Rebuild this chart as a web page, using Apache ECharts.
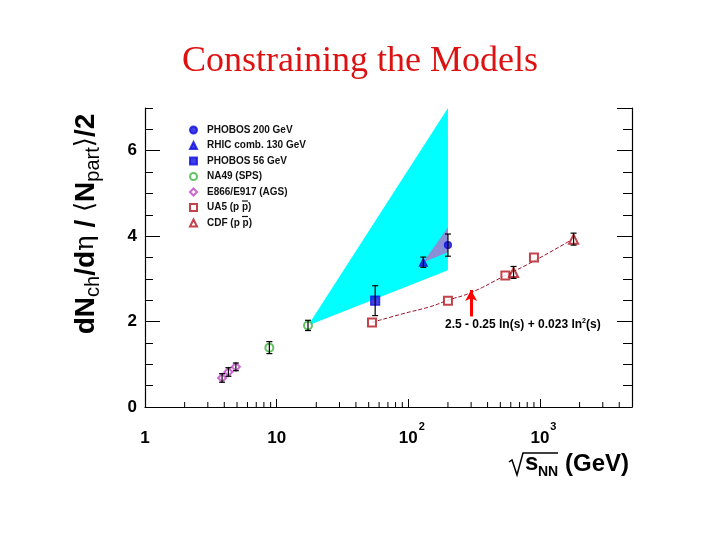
<!DOCTYPE html>
<html>
<head>
<meta charset="utf-8">
<script src="https://cdn.jsdelivr.net/npm/echarts@6/dist/echarts.min.js"></script>
<style>
html, body { margin: 0; padding: 0; background: #fff; }
#main { width: 720px; height: 540px; }
</style>
</head>
<body>
<div id="main"></div>
<script>
// [sqrt(s) GeV, dN/deta per pair, error]
const phobos200 = [[200, 3.79, 0.26]];
const rhic130 = [[130, 3.39, 0.12]];
const phobos56 = [[56, 2.49, 0.35]];
const na49 = [[8.8, 1.39, 0.14], [17.3, 1.91, 0.12]];
const ags = [[3.85, 0.68, 0.1], [4.3, 0.82, 0.1], [4.9, 0.94, 0.09]];
const ua5 = [[53, 1.98], [200, 2.49], [546, 3.08], [900, 3.5]];
const cdf = [[630, 3.15, 0.14], [1800, 3.93, 0.14]];

// dashed fit curve
const fitCurve = [[53, 1.98], [90, 2.18], [147, 2.35], [200, 2.5], [300, 2.68], [530, 3.06], [890, 3.41], [1750, 3.92]];
const fitArrow = [[300, 2.12], [300, 2.74]];

// model bands
const bandPoly = [[17.3, 1.91], [200, 7.0], [200, 3.2]];
const wedgePoly = [[130, 3.39], [200, 4.21], [200, 3.62]];

const legendNames = ['PHOBOS 200 GeV', 'RHIC comb. 130 GeV', 'PHOBOS 56 GeV', 'NA49 (SPS)', 'E866/E917 (AGS)', 'UA5 (p p)', 'CDF (p p)'];
const xTickValues = [1, 10, 100, 1000];
const xTickLabels = ['1', '10', '10^2', '10^3'];
const xMinorTicks = [2, 3, 4, 5, 6, 7, 8, 9, 20, 30, 40, 50, 60, 70, 80, 90, 200, 300, 400, 500, 600, 700, 800, 900, 2000, 3000, 4000];
const yTickLabels = ['0', '2', '4', '6'];

const FONT = 'Liberation Sans';
const LEG_TOP = 120;
const LEG_ROW = 15.5;
const chart = echarts.init(document.getElementById('main'));

function renderErr(params, api) {
  const x = api.value(0), y = api.value(1), e = api.value(2);
  const lo = api.coord([x, y - e]);
  const hi = api.coord([x, y + e]);
  const w = 3;
  const st = { stroke: '#000', lineWidth: 1.2 };
  return {
    type: 'group',
    children: [
      { type: 'line', shape: { x1: lo[0], y1: lo[1], x2: hi[0], y2: hi[1] }, style: st },
      { type: 'line', shape: { x1: lo[0] - w, y1: lo[1], x2: lo[0] + w, y2: lo[1] }, style: st },
      { type: 'line', shape: { x1: hi[0] - w, y1: hi[1], x2: hi[0] + w, y2: hi[1] }, style: st }
    ]
  };
}

function polySeries(poly, color, z) {
  return {
    type: 'custom',
    silent: true,
    clip: true,
    z: z,
    renderItem: function (params, api) {
      return {
        type: 'polygon',
        shape: { points: poly.map(p => api.coord(p)) },
        style: { fill: color }
      };
    },
    data: [poly[0]]
  };
}

function scatter(name, data, symbol, color, size) {
  return {
    name: name,
    type: 'scatter',
    z: 4,
    symbol: symbol,
    symbolSize: size,
    itemStyle: { color: color, borderColor: color, borderWidth: 1.2 },
    data: data.map(d => [d[0], d[1]])
  };
}

// bar over the anti-proton "p" of a legend row
function pbarLine(row) {
  const y = LEG_TOP + row * LEG_ROW + 3.5;
  return { type: 'line', silent: true, shape: { x1: 242, y1: y, x2: 248, y2: y }, style: { stroke: '#111', lineWidth: 1.2 } };
}

const errData = [].concat(phobos200, rhic130, phobos56, na49, ags, cdf);

const option = {
  animation: false,
  backgroundColor: '#fff',
  grid: { left: 145, right: 88, top: 108, bottom: 133 },
  legend: {
    data: legendNames,
    orient: 'vertical',
    left: 184,
    top: LEG_TOP,
    itemWidth: 7,
    itemHeight: 7,
    itemGap: 5.5,
    selectedMode: false,
    textStyle: { fontFamily: FONT, fontSize: 10, fontWeight: 'bold', color: '#111', lineHeight: 10, padding: [0, 0, 0, 5] }
  },
  xAxis: [
    {
      type: 'log', logBase: 10, min: 1, max: 5000, position: 'bottom',
      axisLine: { show: false },
      axisTick: { show: true, inside: true, length: 8, lineStyle: { color: '#000' } },
      splitLine: { show: false },
      axisLabel: {
        showMaxLabel: false,
        margin: 18,
        formatter: function (v) {
          const i = xTickValues.findIndex(t => Math.abs(t - v) < 1e-6 * t);
          if (i < 0) return '';
          const parts = xTickLabels[i].split('^');
          if (parts.length === 1) return '{b|' + parts[0] + '}';
          return '{bs|' + parts[0] + '}{sup|' + parts[1] + '}';
        },
        rich: {
          b: { fontFamily: FONT, fontSize: 17, fontWeight: 'bold', color: '#000', lineHeight: 18, padding: [9, 0, 0, 0] },
          bs: { fontFamily: FONT, fontSize: 17, fontWeight: 'bold', color: '#000', lineHeight: 18, padding: [9, 0, 0, 7] },
          sup: { fontFamily: FONT, fontSize: 11, fontWeight: 'bold', color: '#000', lineHeight: 12, padding: [0, 0, 15, 1] }
        }
      }
    },
    {
      type: 'log', logBase: 10, min: 1, max: 5000, position: 'top',
      axisLine: { show: true, lineStyle: { color: '#000', width: 1.2 } },
      axisTick: { show: false }, axisLabel: { show: false }, splitLine: { show: false }
    }
  ],
  yAxis: [
    {
      type: 'value', min: 0, max: 7, interval: 2, position: 'left',
      axisLine: { show: true, lineStyle: { color: '#000', width: 1.2 } },
      axisTick: { show: true, inside: true, length: 15, lineStyle: { color: '#000' } },
      splitLine: { show: false },
      axisLabel: {
        showMaxLabel: false, margin: 8,
        fontFamily: FONT, fontSize: 17, fontWeight: 'bold', color: '#000',
        formatter: v => yTickLabels[v / 2] || ''
      }
    },
    {
      type: 'value', min: 0, max: 7, interval: 0.5, position: 'left', offset: 0,
      axisLine: { show: false },
      axisTick: { show: true, inside: true, length: 8, lineStyle: { color: '#000' } },
      axisLabel: { show: false }, splitLine: { show: false }
    },
    {
      type: 'value', min: 0, max: 7, interval: 2, position: 'right', offset: 0,
      axisLine: { show: true, lineStyle: { color: '#000', width: 1.2 } },
      axisTick: { show: true, inside: true, length: 15, lineStyle: { color: '#000' } },
      axisLabel: { show: false }, splitLine: { show: false }
    },
    {
      type: 'value', min: 0, max: 7, interval: 0.5, position: 'right', offset: 0,
      axisLine: { show: false },
      axisTick: { show: true, inside: true, length: 9, lineStyle: { color: '#000' } },
      axisLabel: { show: false }, splitLine: { show: false }
    }
  ],
  series: [
    polySeries(bandPoly, '#00ffff', 1),
    polySeries(wedgePoly, '#8a8fd6', 2),
    {
      name: 'fit',
      type: 'line',
      z: 3,
      smooth: true,
      showSymbol: false,
      silent: true,
      data: fitCurve,
      lineStyle: { color: '#a0102a', width: 1, type: [4, 2] },
      markLine: {
        silent: true,
        symbol: ['none', 'arrow'],
        symbolSize: [9, 11],
        label: { show: false },
        lineStyle: { color: '#ff0000', width: 3, type: 'solid' },
        data: [[{ coord: fitArrow[0] }, { coord: fitArrow[1] }]]
      }
    },
    scatter(legendNames[0], phobos200, 'circle', '#1010e0', 7),
    scatter(legendNames[1], rhic130, 'triangle', '#1010e0', 8),
    scatter(legendNames[2], phobos56, 'rect', '#1010e0', 9),
    scatter(legendNames[3], na49, 'emptyCircle', '#3cb43c', 8),
    scatter(legendNames[4], ags, 'emptyDiamond', '#c040c8', 8),
    scatter(legendNames[5], ua5, 'emptyRect', '#b4141e', 8),
    scatter(legendNames[6], cdf, 'emptyTriangle', '#b4141e', 9),
    {
      type: 'custom', z: 5, silent: true,
      renderItem: renderErr,
      data: errData
    },
    {
      type: 'custom', z: 6, silent: true, clip: false,
      renderItem: function (params, api) {
        const p = api.coord([api.value(0), 0]);
        return { type: 'line', shape: { x1: p[0], y1: p[1], x2: p[0], y2: p[1] - 5 }, style: { stroke: '#000', lineWidth: 1 } };
      },
      data: xMinorTicks.map(v => [v, 0])
    }
  ],
  graphic: [
    {
      type: 'text', left: 'center', top: 44,
      style: { text: 'Constraining the Models', fontFamily: 'Liberation Serif', fontSize: 36, fill: '#dd1111' }
    },
    {
      type: 'text', x: 86, y: 224, rotation: Math.PI / 2,
      style: {
        text: '{b|dN}{s|ch}{b|/d}{g|\u03b7}{b| / }{a|\u27e8}{b|N}{s|part}{a|\u27e9}{b|/2}',
        align: 'center', verticalAlign: 'middle',
        rich: {
          b: { fontFamily: FONT, fontSize: 28, fontWeight: 'bold', fill: '#000', lineHeight: 28 },
          g: { fontFamily: 'DejaVu Serif', fontSize: 26, fill: '#000', lineHeight: 28 },
          a: { fontFamily: 'DejaVu Sans', fontSize: 26, fill: '#000', lineHeight: 28 },
          s: { fontFamily: FONT, fontSize: 20, fill: '#000', lineHeight: 20, padding: [15, 0, 0, 0] }
        }
      }
    },
    pbarLine(5),
    pbarLine(6),
    {
      type: 'polyline', silent: true,
      shape: { points: [[509, 462], [512, 460], [517, 475], [523, 453], [558, 453]] },
      style: { stroke: '#000', lineWidth: 1.5, fill: null }
    },
    { type: 'text', x: 525, y: 463, style: { text: 's', fontFamily: FONT, fontSize: 24, fontWeight: 'bold', fill: '#000', verticalAlign: 'middle' } },
    { type: 'text', x: 538, y: 472, style: { text: 'NN', fontFamily: FONT, fontSize: 14, fontWeight: 'bold', fill: '#000', verticalAlign: 'middle' } },
    { type: 'text', x: 565, y: 464, style: { text: '(GeV)', fontFamily: FONT, fontSize: 24, fontWeight: 'bold', fill: '#000', verticalAlign: 'middle' } },
    {
      type: 'text', x: 445, y: 325,
      style: {
        text: '{m|2.5 - 0.25 ln(s) + 0.023 ln}{p|2}{m|(s)}',
        verticalAlign: 'middle',
        rich: {
          m: { fontFamily: FONT, fontSize: 12, fontWeight: 'bold', fill: '#000', lineHeight: 13 },
          p: { fontFamily: FONT, fontSize: 7, fontWeight: 'bold', fill: '#000', lineHeight: 8, padding: [0, 0, 8, 0] }
        }
      }
    }
  ]
};

chart.setOption(option);
</script>
</body>
</html>
